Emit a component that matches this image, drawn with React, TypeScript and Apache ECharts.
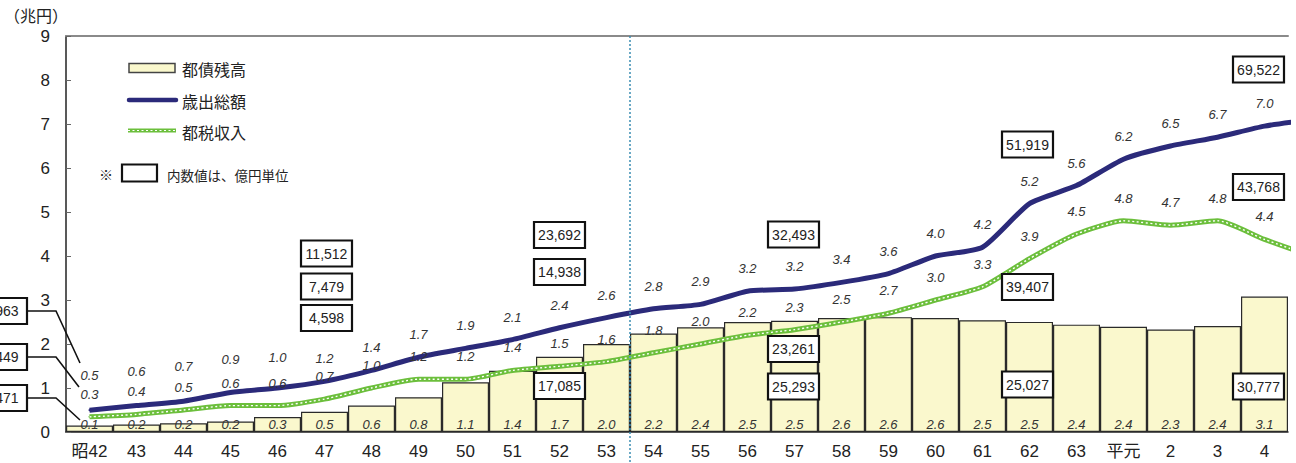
import React, { useEffect, useRef } from "react";
import * as echarts from "echarts";

// ---------------- data ----------------
const categories = [
  "昭42", "43", "44", "45", "46", "47", "48", "49", "50", "51", "52", "53",
  "54", "55", "56", "57", "58", "59", "60", "61", "62", "63", "平元", "2", "3", "4",
];
// 都債残高 (兆円)
const debt = [
  0.1471, 0.17, 0.2, 0.24, 0.34, 0.4598, 0.6, 0.79, 1.13, 1.39, 1.7085, 2.0,
  2.24, 2.38, 2.5, 2.5293, 2.59, 2.61, 2.59, 2.54, 2.5027, 2.44, 2.39, 2.33, 2.41, 3.0777,
];
// 歳出総額 (兆円)
const expenditure = [
  0.4963, 0.6, 0.7, 0.9, 1.0, 1.1512, 1.4, 1.7, 1.9, 2.1, 2.3692, 2.6,
  2.8, 2.9, 3.2, 3.2493, 3.4, 3.6, 4.0, 4.2, 5.1919, 5.6, 6.2, 6.5, 6.7, 6.9522,
];
// 都税収入 (兆円)
const taxRevenue = [
  0.3449, 0.4, 0.5, 0.6, 0.6, 0.7479, 1.0, 1.2, 1.2, 1.4, 1.4938, 1.6,
  1.8, 2.0, 2.2, 2.3261, 2.5, 2.7, 3.0, 3.3, 3.9407, 4.5, 4.8, 4.7, 4.8, 4.3768,
];
// following year (off the right edge, only the leaving segment is visible)
const nextExpenditure = 7.1;
const nextTaxRevenue = 4.0;

// boxed values (億円), keyed by category index
const boxCats = [5, 10, 15, 20, 25];
const boxExpenditure = ["11,512", "23,692", "32,493", "51,919", "69,522"];
const boxTax = ["7,479", "14,938", "23,261", "39,407", "43,768"];
const boxDebt = ["4,598", "17,085", "25,293", "25,027", "30,777"];
const firstYearBoxes = ["4,963", "3,449", "1,471"];

const yMin = 0;
const yMax = 9;

const seriesNames = ["都債残高", "歳出総額", "都税収入"];

// ---------------- style ----------------
const NUM_FONT = "'Liberation Sans', Arial, 'Noto Sans CJK JP', sans-serif";
const JP_FONT = "'Noto Sans CJK JP', 'Noto Sans', sans-serif";
const BAR_FILL = "#faf8cd";
const BAR_BORDER = "#2a2a2a";
const BLUE = "#2b2a7a";
const GREEN = "#6cbf3c";
// extra lift of the first expenditure labels (they sit higher in the original)
const expLabelLift = [12, 12, 12, 10, 8];

export default function App() {
  const ref = useRef<HTMLDivElement>(null);

  useEffect(() => {
    if (!ref.current) return;
    const chart = echarts.init(ref.current, undefined, { renderer: "svg" });

    const valueLabel = {
      show: true,
      fontStyle: "italic" as const,
      fontSize: 13,
      color: "#333",
      fontFamily: NUM_FONT,
    };
    const lineFmt = (p: any) =>
      p.dataIndex < categories.length ? Number(p.value[1]).toFixed(1) : "";

    chart.setOption({
      animation: false,
      backgroundColor: "#ffffff",
      textStyle: { fontFamily: NUM_FONT },
      grid: { left: 66, right: 8, top: 36, bottom: 31 },
      xAxis: [
        {
          type: "category",
          data: categories,
          boundaryGap: true,
          axisLine: { onZero: false, lineStyle: { color: "#222", width: 1.5 } },
          axisTick: { show: false },
          axisLabel: {
            interval: 0,
            color: "#222",
            fontSize: 17,
            margin: 11,
            fontFamily: NUM_FONT,
          },
        },
        { type: "value", min: -0.5, max: categories.length - 0.5, show: false },
        {
          type: "category",
          position: "top",
          data: categories,
          axisLine: { onZero: false, lineStyle: { color: "#8a8a8a", width: 2 } },
          axisTick: { show: false },
          axisLabel: { show: false },
        },
      ],
      yAxis: {
        type: "value",
        min: yMin,
        max: yMax,
        interval: 1,
        position: "left",
        axisLine: { show: true, onZero: false, lineStyle: { color: "#222", width: 1.5 } },
        axisTick: { show: true, inside: true, length: 5, lineStyle: { color: "#666" } },
        splitLine: { show: false },
        axisLabel: { color: "#222", fontSize: 17, margin: 16, fontFamily: NUM_FONT },
      },
      series: [
        {
          name: seriesNames[0],
          type: "bar",
          xAxisIndex: 0,
          data: debt,
          barCategoryGap: "0%",
          itemStyle: { color: BAR_FILL, borderColor: BAR_BORDER, borderWidth: 1.2 },
          label: {
            ...valueLabel,
            position: "insideBottom",
            distance: 1,
            formatter: (p: any) => Number(p.value).toFixed(1),
          },
          z: 1,
        },
        {
          name: seriesNames[1],
          type: "line",
          xAxisIndex: 1,
          data: [...expenditure, nextExpenditure].map((v, i) => ({
            value: [i, v],
            label: { distance: 15 + (expLabelLift[i] || 0) },
          })),
          smooth: 0.2,
          symbol: "circle",
          symbolSize: 2,
          itemStyle: { color: BLUE },
          lineStyle: { color: BLUE, width: 5 },
          label: { ...valueLabel, position: "top", distance: 15, formatter: lineFmt },
          z: 3,
        },
        {
          name: seriesNames[2],
          type: "line",
          xAxisIndex: 1,
          data: [...taxRevenue, nextTaxRevenue].map((v, i) => [i, v]),
          smooth: 0.2,
          symbol: "circle",
          symbolSize: 2,
          itemStyle: { color: GREEN },
          lineStyle: { color: GREEN, width: 5 },
          label: { ...valueLabel, position: "top", distance: 15, formatter: lineFmt },
          z: 3,
        },
        {
          name: seriesNames[2] + "_dots",
          type: "line",
          xAxisIndex: 1,
          data: [...taxRevenue, nextTaxRevenue].map((v, i) => [i, v]),
          smooth: 0.2,
          symbol: "none",
          silent: true,
          lineStyle: { color: "#ffffff", width: 1.4, type: [2, 2.5] },
          z: 4,
        },
      ],
    });

    // ------------- annotations positioned from the chart's own scales -------------
    const cx = (i: number) => chart.convertToPixel({ xAxisIndex: 1 }, i) as number;
    const top = chart.convertToPixel({ yAxisIndex: 0 }, yMax) as number;

    const box = (xc: number, yc: number, text: string, w = 51, h = 26) => ({
      type: "group",
      children: [
        {
          type: "rect",
          shape: { x: xc - w / 2, y: yc - h / 2, width: w, height: h },
          style: { fill: "#fff", stroke: "#111", lineWidth: 2.2 },
          z: 10,
        },
        {
          type: "text",
          x: xc,
          y: yc,
          style: {
            text,
            fill: "#222",
            fontSize: 14,
            fontFamily: NUM_FONT,
            textAlign: "center",
            textVerticalAlign: "middle",
          },
          z: 11,
        },
      ],
    });

    // vertical centres of the boxed values per column (expenditure, tax, debt)
    const boxRows = [
      { dx: 2, ys: [253.5, 286.5, 318] },
      { dx: 0, ys: [235, 272, 386] },
      { dx: -1, ys: [234.5, 349, 386.5] },
      { dx: -2, ys: [144.5, 287, 384.5] },
      { dx: -6, ys: [69.5, 187, 386.5] },
    ];

    const graphics: any[] = [];
    boxCats.forEach((c, k) => {
      const x = cx(c) + boxRows[k].dx;
      graphics.push(box(x, boxRows[k].ys[0], boxExpenditure[k]));
      graphics.push(box(x, boxRows[k].ys[1], boxTax[k]));
      graphics.push(box(x, boxRows[k].ys[2], boxDebt[k]));
    });

    // first-year boxes (cut by the left edge, as in the original) with leader lines
    const firstY = [311, 357, 398];
    const leaderEnd = [
      [80, 363],
      [79, 387],
      [80, 420],
    ];
    firstYearBoxes.forEach((t, k) => {
      graphics.push({
        type: "polyline",
        shape: {
          points: [
            [26, firstY[k]],
            [56, firstY[k]],
            leaderEnd[k],
          ],
        },
        style: { stroke: "#111", lineWidth: 1.6, fill: null },
        z: 9,
      });
      graphics.push(box(1, firstY[k], t, 52, 26));
    });

    // dotted period divider between 53 and 54
    const xDiv = cx(11.5);
    graphics.push({
      type: "line",
      shape: { x1: xDiv, y1: top, x2: xDiv, y2: 463 },
      style: { stroke: "#3a8db3", lineWidth: 1.5, lineDash: [2, 2] },
      z: 5,
    });

    // unit label
    graphics.push({
      type: "text",
      x: 4,
      y: 15,
      style: {
        text: "（兆円）",
        fill: "#222",
        fontSize: 16,
        fontFamily: JP_FONT,
        textVerticalAlign: "middle",
      },
    });

    // legend
    const legendText = (y: number, text: string, size = 16, x = 182) => ({
      type: "text",
      x,
      y,
      style: {
        text,
        fill: "#222",
        fontSize: size,
        fontFamily: JP_FONT,
        textVerticalAlign: "middle",
      },
      z: 12,
    });
    graphics.push(
      {
        type: "rect",
        shape: { x: 129, y: 63.5, width: 46, height: 9 },
        style: { fill: BAR_FILL, stroke: "#444", lineWidth: 1.5 },
        z: 12,
      },
      legendText(68.5, seriesNames[0]),
      {
        type: "line",
        shape: { x1: 129, y1: 100, x2: 176, y2: 100 },
        style: { stroke: BLUE, lineWidth: 4.5, lineCap: "round" },
        z: 12,
      },
      legendText(101, seriesNames[1]),
      {
        type: "line",
        shape: { x1: 128, y1: 130.5, x2: 176, y2: 130.5 },
        style: { stroke: GREEN, lineWidth: 4 },
        z: 12,
      },
      {
        type: "line",
        shape: { x1: 128, y1: 130.5, x2: 176, y2: 130.5 },
        style: { stroke: "#fff", lineWidth: 1.2, lineDash: [2, 2.5] },
        z: 13,
      },
      legendText(131.5, seriesNames[2]),
      legendText(174, "※", 14, 99),
      {
        type: "rect",
        shape: { x: 122, y: 164.5, width: 35, height: 17 },
        style: { fill: "#fff", stroke: "#111", lineWidth: 2.2 },
        z: 12,
      },
      legendText(174.5, "内数値は、億円単位", 13.5, 167)
    );

    chart.setOption({ graphic: graphics });

    return () => chart.dispose();
  }, []);

  return (
    <div
      ref={ref}
      style={{ position: "absolute", left: 0, top: 0, width: 1296, height: 463 }}
    />
  );
}
